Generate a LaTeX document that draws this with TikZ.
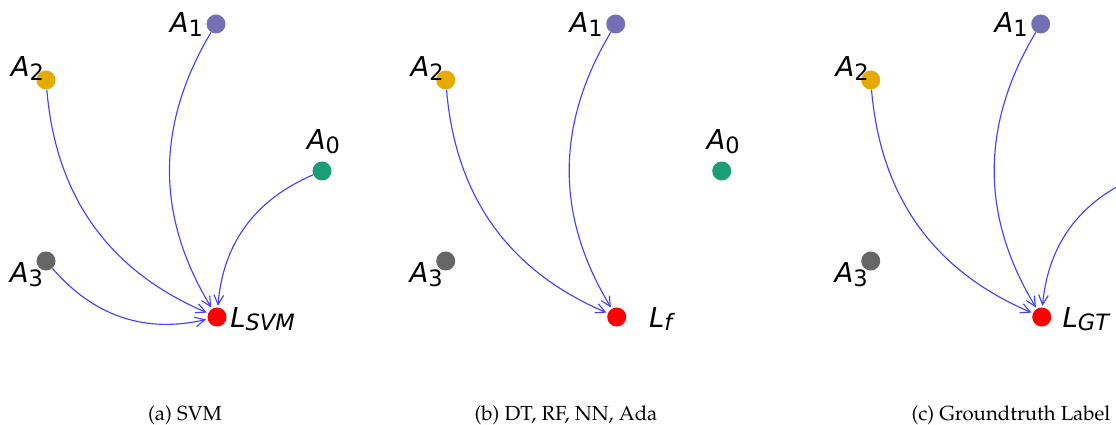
\documentclass[tikz,border=0pt]{standalone}
\usepackage[T1]{fontenc}
\usepackage{fontspec}
\usepackage{tikz}
\usetikzlibrary{positioning, arrows.meta}
\newfontfamily\dejavu{DejaVu Sans}
\newcommand{\capfont}{\fontencoding{T1}\fontfamily{ppl}\fontsize{14.5}{17}\selectfont}
\newcommand{\vlab}[2]{\textit{#1}\raisebox{-2.5pt}{\fontsize{16}{16}\selectfont #2}}
\definecolor{dkPurple}{HTML}{7570B3}
\definecolor{dkGold}{HTML}{E6AB02}
\definecolor{dkGreen}{HTML}{1B9E77}
\definecolor{dkGrey}{HTML}{666666}
\definecolor{dkRed}{HTML}{FF0000}
\definecolor{edgeBlue}{HTML}{4040FF}
\tikzset{
  dot/.style={
    circle, fill=#1, draw=none,
    inner sep=0pt, minimum size=0.475cm
  },
  vlabel/.style={
    font=\dejavu\fontsize{19.5}{22}\selectfont,
    anchor=base, inner sep=0pt
  },
  caption/.style={font=\capfont, anchor=base, inner sep=0pt},
  edge/.style={
    -{Straight Barb[length=2.4mm, width=2.4mm]},
    edgeBlue, line width=0.8pt, shorten >=1pt, bend right=31
  }
}

\begin{document}
\begin{tikzpicture}[x=0.025cm, y=-0.025cm]
  \useasboundingbox (0,0) rectangle (1116,425);
  % (a) SVM
  \node[dot=dkPurple] (a1) at (216, 24) {};
  \node[dot=dkGold] (a2) at (46, 80) {};
  \node[dot=dkGreen] (a0) at (322, 171) {};
  \node[dot=dkGrey] (a3) at (46, 261) {};
  \node[dot=dkRed] (la) at (217, 317) {};
  \node[vlabel] (a1t) at (186.5, 33) {\vlab{A}{1}};
  \node[vlabel] (a2t) at (27.5, 77) {\vlab{A}{2}};
  \node[vlabel] (a0t) at (323.5, 150) {\vlab{A}{0}};
  \node[vlabel] (a3t) at (26.5, 283) {\vlab{A}{3}};
  \node[vlabel] (lat) at (262.5, 327) {\vlab{L}{\textit{SVM}}};
  \draw[edge] (a1) to (la);
  \draw[edge] (a2) to (la);
  \draw[edge] (a0) to (la);
  \draw[edge] (a3) to (la);
  \node[caption] (capa) at (185, 420) {(a) SVM};
  % (b) DT, RF, NN, Ada
  \node[dot=dkPurple] (b1) at (615.7, 24) {};
  \node[dot=dkGold] (b2) at (445.7, 80) {};
  \node[dot=dkGreen] (b0) at (721.7, 171) {};
  \node[dot=dkGrey] (b3) at (445.7, 261) {};
  \node[dot=dkRed] (lb) at (616.7, 317) {};
  \node[vlabel] (b1t) at (586.2, 33) {\vlab{A}{1}};
  \node[vlabel] (b2t) at (427.2, 77) {\vlab{A}{2}};
  \node[vlabel] (b0t) at (723.2, 150) {\vlab{A}{0}};
  \node[vlabel] (b3t) at (426.2, 283) {\vlab{A}{3}};
  \node[vlabel] (lbt) at (662.2, 327) {\vlab{L}{\textit{f}}};
  \draw[edge] (b1) to (lb);
  \draw[edge] (b2) to (lb);
  \node[caption] (capb) at (566, 420) {(b) DT, RF, NN, Ada};
  % (c) Groundtruth Label
  \node[dot=dkPurple] (c1) at (1040.7, 24) {};
  \node[dot=dkGold] (c2) at (870.7, 80) {};
  \node[dot=dkGrey] (c3) at (870.7, 261) {};
  \node[dot=dkRed] (lc) at (1041.7, 317) {};
  \coordinate (c0) at (1139, 176);
  \node[vlabel] (c1t) at (1011.2, 33) {\vlab{A}{1}};
  \node[vlabel] (c2t) at (852.2, 77) {\vlab{A}{2}};
  \node[vlabel] (c3t) at (851.2, 283) {\vlab{A}{3}};
  \node[vlabel] (lct) at (1086.5, 327) {\vlab{L}{\textit{GT}}};
  \draw[edge] (c1) to (lc);
  \draw[edge] (c2) to (lc);
  \begin{scope}
    \clip (0,0) rectangle (1116,425);
    \draw[edge] (c0) to (lc);
  \end{scope}
  \node[caption] (capc) at (1011, 420) {(c) Groundtruth Label};
\end{tikzpicture}
\end{document}
